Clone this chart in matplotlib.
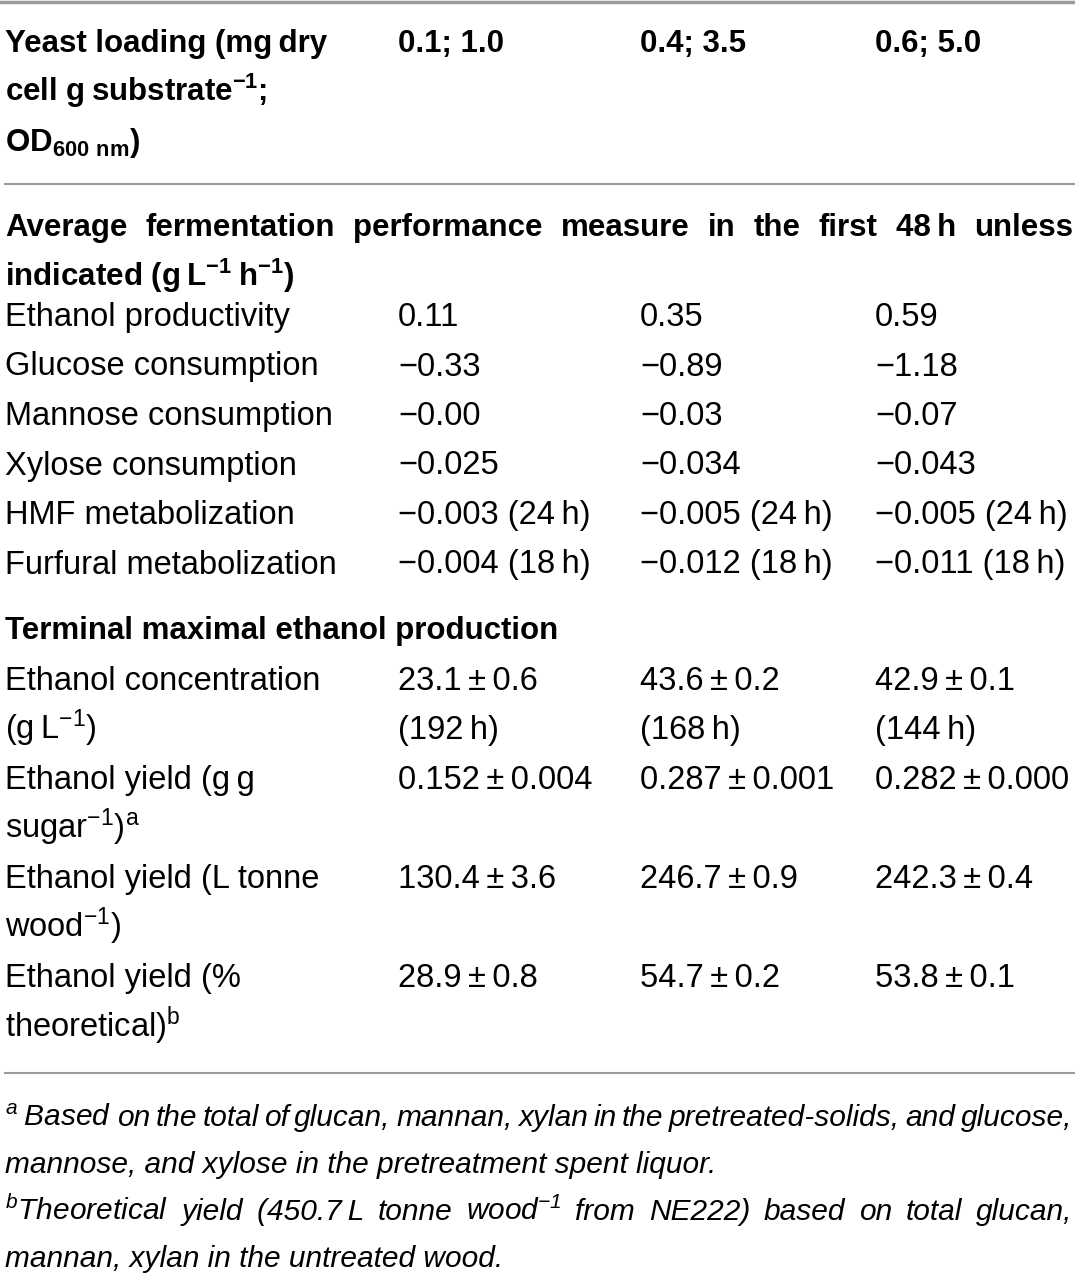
import matplotlib
matplotlib.use("Agg")
import matplotlib.pyplot as plt

plt.rcParams['font.family'] = ['Liberation Sans', 'DejaVu Sans']
plt.rcParams['mathtext.fontset'] = 'custom'
plt.rcParams['mathtext.default'] = 'regular'

T = "\u2009"   # thin space
M = "\u2212"   # minus sign
PM = T + "\u00b1" + T

# --- table data ---
loading_header = ["Yeast loading (mg" + T + "dry", "cell g" + T + "substrate$^{-1}$;", "OD$_{600\\ nm}$)"]
loadings = ["0.1; 1.0", "0.4; 3.5", "0.6; 5.0"]

avg_title = ["Average fermentation performance measure in the first 48" + T + "h unless",
             "indicated (g" + T + "L$^{-1}$" + T + "h$^{-1}$)"]
avg_labels = ["Ethanol productivity", "Glucose consumption", "Mannose consumption",
              "Xylose consumption", "HMF metabolization", "Furfural metabolization"]
avg_load1 = ["0.11", M + "0.33", M + "0.00", M + "0.025", M + "0.003 (24" + T + "h)", M + "0.004 (18" + T + "h)"]
avg_load2 = ["0.35", M + "0.89", M + "0.03", M + "0.034", M + "0.005 (24" + T + "h)", M + "0.012 (18" + T + "h)"]
avg_load3 = ["0.59", M + "1.18", M + "0.07", M + "0.043", M + "0.005 (24" + T + "h)", M + "0.011 (18" + T + "h)"]

term_title = "Terminal maximal ethanol production"
term_labels = [["Ethanol concentration", "(g" + T + "L$^{-1}$)"],
               ["Ethanol yield (g" + T + "g", "sugar$^{-1}$)$^{a}$"],
               ["Ethanol yield (L tonne", "wood$^{-1}$)"],
               ["Ethanol yield (%", "theoretical)$^{b}$"]]
term_load1 = [["23.1" + PM + "0.6", "(192" + T + "h)"], ["0.152" + PM + "0.004"], ["130.4" + PM + "3.6"], ["28.9" + PM + "0.8"]]
term_load2 = [["43.6" + PM + "0.2", "(168" + T + "h)"], ["0.287" + PM + "0.001"], ["246.7" + PM + "0.9"], ["54.7" + PM + "0.2"]]
term_load3 = [["42.9" + PM + "0.1", "(144" + T + "h)"], ["0.282" + PM + "0.000"], ["242.3" + PM + "0.4"], ["53.8" + PM + "0.1"]]

footnotes = [("$^{a}$" + T + "Based on the total of glucan, mannan, xylan in the pretreated-solids, and glucose,", True),
             ("mannose, and xylose in the pretreatment spent liquor.", False),
             ("$^{b}$Theoretical yield (450.7" + T + "L tonne wood$^{-1}$ from NE222) based on total glucan,", True),
             ("mannan, xylan in the untreated wood.", False)]

W, H = 1075, 1275
fig = plt.figure(figsize=(W / 100, H / 100), dpi=100)
ax = fig.add_axes([0, 0, 1, 1])
ax.set_xlim(0, W)
ax.set_ylim(H, 0)
ax.axis('off')
renderer = fig.canvas.get_renderer()

col_x = [5, 398, 640, 875]
body = 23.5
bold = 22.5
note = 21.5
line_gap = 49.5


def justify(words, y, x0, x1, **kw):
    # place words spread over [x0, x1]
    texts = [ax.text(x0, y, w, va='baseline', ha='left', **kw) for w in words]
    widths = []
    for t in texts:
        bb = t.get_window_extent(renderer=renderer)
        widths.append(bb.width)
    gap = (x1 - x0 - sum(widths)) / max(len(words) - 1, 1)
    x = x0
    for t, w in zip(texts, widths):
        t.set_x(x)
        x += w + gap


# header
ax.plot([0, W], [2, 2], color='#9a9a9a', lw=2.5)
for i, s in enumerate(loading_header):
    ax.text(col_x[0], 52 + i * line_gap, s, fontsize=bold, fontweight='bold', va='baseline')
for j, s in enumerate(loadings):
    ax.text(col_x[j + 1], 52, s, fontsize=bold, fontweight='bold', va='baseline')
ax.plot([5, W], [184, 184], color='#9a9a9a', lw=1.5)

# average performance section
justify(avg_title[0].split(' '), 236, col_x[0], 1073, fontsize=bold, fontweight='bold')
ax.text(col_x[0], 286, avg_title[1], fontsize=bold, fontweight='bold', va='baseline')
for i, lab in enumerate(avg_labels):
    y = 326 + i * line_gap
    ax.text(col_x[0], y, lab, fontsize=body, va='baseline')
    for j, vals in enumerate([avg_load1, avg_load2, avg_load3]):
        ax.text(col_x[j + 1], y, vals[i], fontsize=body, va='baseline')

# terminal section
ax.text(col_x[0], 639, term_title, fontsize=bold, fontweight='bold', va='baseline')
y0 = 690
for i, lab in enumerate(term_labels):
    y = y0 + i * 2 * line_gap
    for k, s in enumerate(lab):
        ax.text(col_x[0], y + k * line_gap, s, fontsize=body, va='baseline')
    for j, vals in enumerate([term_load1, term_load2, term_load3]):
        for k, s in enumerate(vals[i]):
            ax.text(col_x[j + 1], y + k * line_gap, s, fontsize=body, va='baseline')
ax.plot([5, W], [1073, 1073], color='#9a9a9a', lw=1.5)

# footnotes
for i, (s, just) in enumerate(footnotes):
    y = 1126 + i * 47
    if just:
        justify(s.split(' '), y, col_x[0], 1072, fontsize=note, fontstyle='italic')
    else:
        ax.text(col_x[0], y, s, fontsize=note, fontstyle='italic', va='baseline')

fig.savefig('out.png', dpi=100)
